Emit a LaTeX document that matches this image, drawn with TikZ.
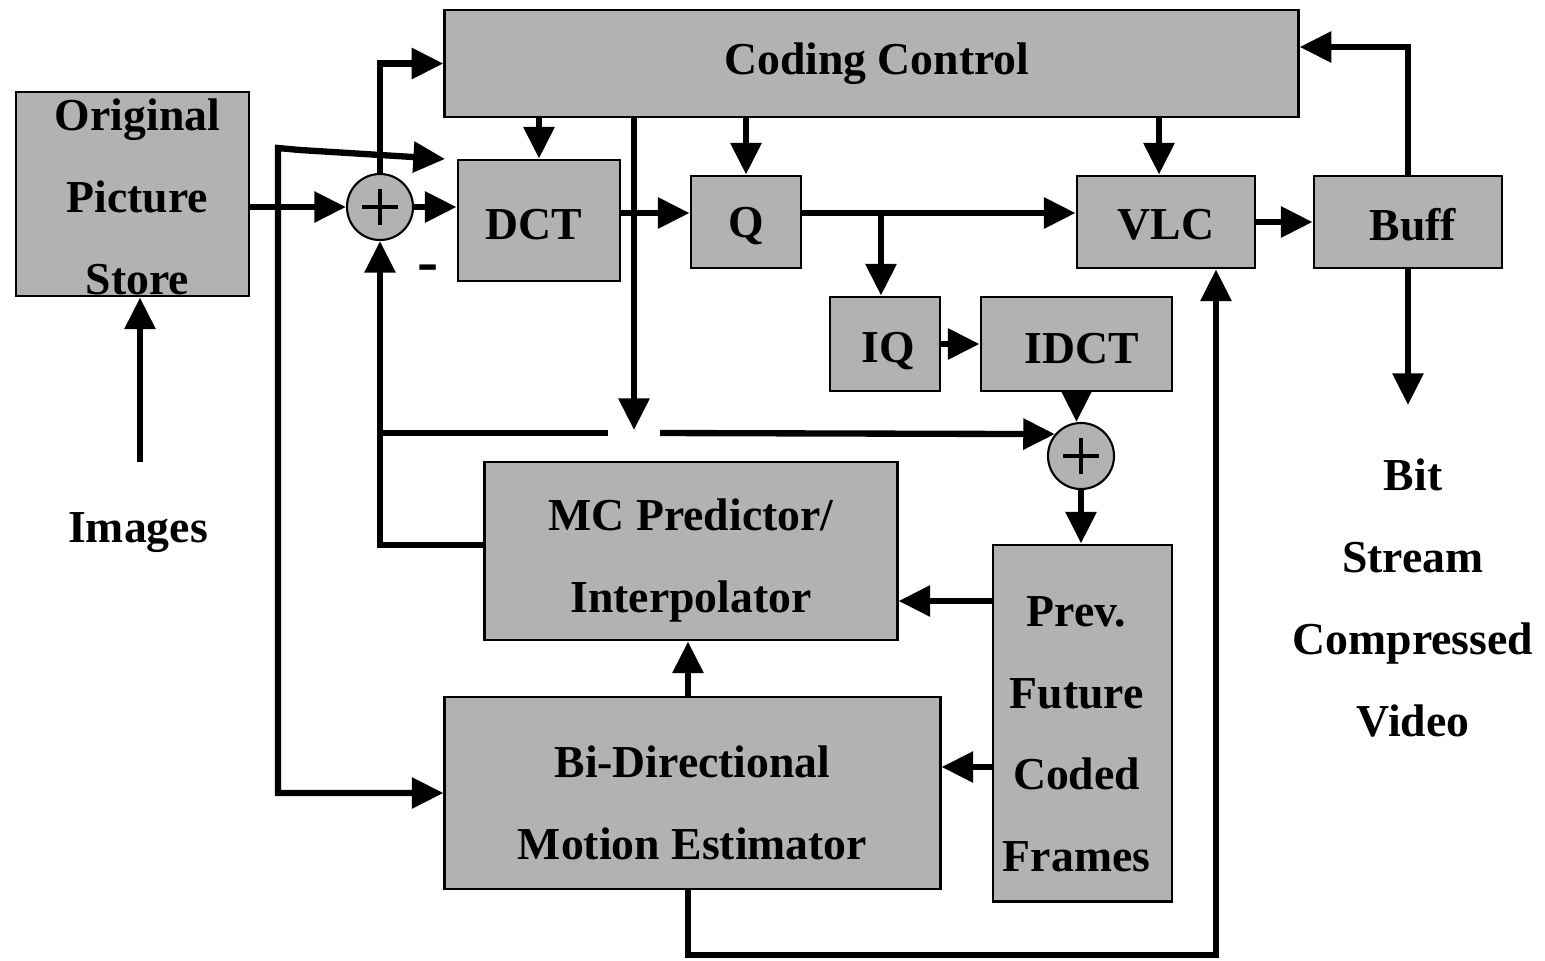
\documentclass[tikz,border=0pt]{standalone}
\usepackage{fontspec}
\setmainfont{Liberation Serif}
\usetikzlibrary{arrows.meta}
\definecolor{boxgray}{RGB}{178,178,178}
\newcommand\lblfont{\fontsize{13pt}{23.3pt}\selectfont\bfseries}
\newcommand\tstrut[1]{\rule{0pt}{#1}}
\tikzset{
  blk/.style={draw, line width=0.8pt, fill=boxgray, inner sep=0pt, align=center, font=\lblfont},
  lbl/.style={align=center, font=\lblfont, inner sep=0pt},
  line/.style={line width=1.8pt},
  conn/.style={line width=1.8pt, -{Triangle[length=9pt,width=8.5pt]}},
  conntwo/.style={line width=1.8pt, {Triangle[length=9pt,width=8.5pt]}-{Triangle[length=9pt,width=8.5pt]}},
  sumnode/.style={circle, draw, line width=0.6pt, fill=boxgray, minimum size=0.66cm, inner sep=0pt,
    path picture={\draw[line width=1.1pt]
      ([xshift=-0.18cm]path picture bounding box.center) -- ([xshift=0.18cm]path picture bounding box.center)
      ([yshift=-0.18cm]path picture bounding box.center) -- ([yshift=0.18cm]path picture bounding box.center);}}
}
\begin{document}
\begin{tikzpicture}[x=0.01cm,y=-0.01cm]
\useasboundingbox[fill=white] (0,0) rectangle (1545,960);

% blocks
\node[blk, minimum width=2.33cm, minimum height=2.04cm] (ops) at (132.5,194) {\tstrut{10.6pt}\hspace*{2.8pt}Original\\\hspace*{2.8pt}Picture\\\hspace*{2.8pt}Store};
\node[blk, minimum width=8.53cm, minimum height=1.07cm] (cc) at (871.5,63.5) {\hspace*{3pt}Coding Control};
\node[blk, minimum width=1.62cm, minimum height=1.21cm] (dct) at (539,220.5) {\tstrut{10.9pt}DCT\hspace*{3pt}};
\node[blk, minimum width=1.10cm, minimum height=0.92cm] (q) at (746,222) {\tstrut{11pt}Q};
\node[blk, minimum width=1.78cm, minimum height=0.92cm] (vlc) at (1166,222) {\tstrut{10.3pt}VLC};
\node[blk, minimum width=1.88cm, minimum height=0.92cm] (buff) at (1408,222) {\tstrut{10.7pt}\hspace*{2.8pt}Buff};
\node[blk, minimum width=1.10cm, minimum height=0.94cm] (iq) at (885,344) {\tstrut{12.9pt}\hspace*{2pt}IQ};
\node[blk, minimum width=1.91cm, minimum height=0.94cm] (idct) at (1076.5,344) {\tstrut{11.4pt}\hspace*{3pt}IDCT};
\node[blk, minimum width=4.12cm, minimum height=1.78cm] (mc) at (691,551) {\tstrut{14.2pt}MC Predictor/\\Interpolator};
\node[blk, minimum width=4.95cm, minimum height=1.92cm] (me) at (692.5,793) {\tstrut{14.6pt}Bi-Directional\\Motion Estimator};
\node[blk, minimum width=1.79cm, minimum height=3.56cm] (pf) at (1082.5,723) {\tstrut{14.9pt}\hspace*{-3.4pt}Prev.\\\hspace*{-3.4pt}Future\\\hspace*{-3.4pt}Coded\\\hspace*{-3.4pt}Frames};
\node[sumnode] (sum1) at (380,207) {};
\node[sumnode] (sum2) at (1081,456) {};
\node[lbl] (img) at (138,533) {Images};
\node[lbl] (bs) at (1413,598) {Bit\\Stream\\Compressed\\Video};
\node[lbl, font=\fontsize{18pt}{20pt}\selectfont\bfseries] (minus) at (428,274) {-};

% helper coordinates
\coordinate (row) at (0,213);
\coordinate (lt) at (278,148);
\coordinate (lk) at (300,150);
\coordinate (ctip) at (445,159);
\coordinate (j1) at (380,433);
\coordinate (gap1) at (608,433);
\coordinate (gap2) at (660,433);
\coordinate (ccdown) at (634,430);
\coordinate (br) at (881,213);
\coordinate (fb) at (1408,47);
\coordinate (bsout) at (1408,405);
\coordinate (prow1) at (0,601);
\coordinate (prow2) at (0,767);
\coordinate (bot) at (688,955);
\coordinate (rv) at (1216,955);
\coordinate (imgtop) at (140,462);
\coordinate (vlcin) at (1159,0);

% connectors
\draw[conn] (ops.east |- sum1) -- (sum1.west);
\draw[conn] (sum1.east) -- (dct.west |- sum1);
\draw[conn] (sum1.north) |- (cc.west);
\draw[conntwo] (me.west) -| (lt) -- (lk) -- (ctip);
\draw[conn] ([yshift=0.06cm]mc.west) -| (sum1.south);
\draw[line] (j1) -- (gap1);
\draw[conn] (gap2) -- (sum2.140);
\draw[conn] (cc.south -| ccdown) -- (ccdown);
\draw[conn] (cc.south -| dct) -- (dct.north);
\draw[conn] (cc.south -| q) -- (q.north);
\draw[conn] (cc.south -| vlcin) -- (vlc.north -| vlcin);
\draw[conn] (dct.east |- row) -- (q.west |- row);
\draw[conn] (q.east |- row) -- (vlc.west |- row);
\draw[conn] (br) -- (iq.north -| br);
\draw[conn] (iq) -- (idct);
\draw[conn] (idct.south) -- (idct.south |- sum2.north);
\draw[conn] (vlc) -- (buff);
\draw[conn] (buff.north) -- (fb) -- (cc.east |- fb);
\draw[conn] (buff.south) -- (bsout);
\draw[conn] (sum2.south) -- (sum2.south |- pf.north);
\draw[conn] (pf.west |- prow1) -- (mc.east |- prow1);
\draw[conn] (pf.west |- prow2) -- (me.east |- prow2);
\draw[conn] (me.north -| bot) -- (mc.south -| bot);
\draw[conn] (me.south -| bot) -- (bot) -- (rv) -- (vlc.south -| rv);
\draw[conn] (imgtop) -- (ops.south -| imgtop);
\end{tikzpicture}
\end{document}
